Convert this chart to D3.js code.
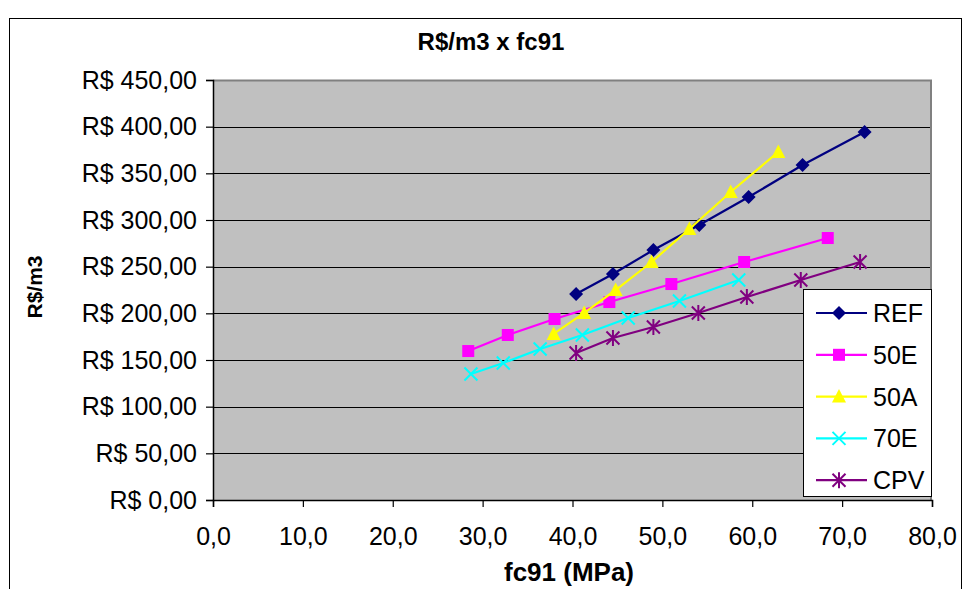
<!DOCTYPE html>
<html><head><meta charset="utf-8">
<script src="https://cdn.jsdelivr.net/npm/d3@7"></script>
<style>body{margin:0;background:#fff}svg{display:block;font-family:"Liberation Sans",Arial,sans-serif}</style>
</head><body>
<svg id="c" width="966" height="589"></svg>
<script>
const chartTitle = "R$/m3 x fc91";
const xTitle = "fc91 (MPa)";
const yTitle = "R$/m3";
const xTicks = [0,10,20,30,40,50,60,70,80];
const yTicks = [0,50,100,150,200,250,300,350,400,450];
const seriesNames = ["REF","50E","50A","70E","CPV"];
const seriesColors = ["#000080","#FF00FF","#FFFF00","#00FFFF","#800080"];
const seriesMarkers = ["diamond","square","triangle","x","star"];
const refX = [40.4,44.5,49.0,54.1,59.6,65.6,72.5];
const refY = [220.7,242.1,267.9,294.6,324.6,358.9,394.3];
const e50X = [28.4,32.8,38.0,44.1,51.0,59.1,68.4];
const e50Y = [159.6,176.8,193.9,212.1,231.4,255.0,280.7];
const a50X = [37.9,41.3,44.8,48.8,53.0,57.6,62.9];
const a50Y = [177.9,200.4,225.0,255.0,290.4,330.0,372.9];
const e70X = [28.7,32.3,36.4,41.1,46.2,51.9,58.5];
const e70Y = [135.0,146.8,161.8,176.8,195.0,213.2,235.7];
const cpvX = [40.4,44.5,49.0,54.0,59.4,65.4,72.0];
const cpvY = [157.5,173.6,185.4,200.4,217.5,235.7,255.0];
const seriesX = [refX,e50X,a50X,e70X,cpvX];
const seriesY = [refY,e50Y,a50Y,e70Y,cpvY];

const svg = d3.select("#c");
const L = 213, R = 932, T = 80, B = 500;
const x = d3.scaleLinear().domain([0,80]).range([L,R]);
const y = d3.scaleLinear().domain([0,450]).range([B,T]);

// outer border
svg.append("rect").attr("x",9.5).attr("y",18.5).attr("width",952).attr("height",620)
  .attr("fill","#fff").attr("stroke","#000").attr("stroke-width",1);

// plot area
svg.append("rect").attr("x",L).attr("y",T).attr("width",R-L).attr("height",B-T).attr("fill","#C0C0C0");
// gridlines
svg.append("g").selectAll("line").data(yTicks.filter(d=>d>0 && d<450)).join("line")
  .attr("x1",L).attr("x2",R).attr("y1",d=>Math.round(y(d))+0.5).attr("y2",d=>Math.round(y(d))+0.5)
  .attr("stroke","#000").attr("stroke-width",1.2);
// top/right border gray
svg.append("path").attr("d",`M${L},${T+0.5}H${R-1}V${B}`).attr("fill","none").attr("stroke","#808080").attr("stroke-width",2);

// axes
const fmtX = d => d3.format(".1f")(d).replace(".",",");
const fmtY = d => "R$ " + d3.format(".2f")(d).replace(".",",");
const gx = svg.append("g").attr("transform",`translate(0,${B})`)
  .call(d3.axisBottom(x).tickValues(xTicks).tickFormat(fmtX).tickSize(7).tickPadding(20));
const gy = svg.append("g").attr("transform",`translate(${L},0)`)
  .call(d3.axisLeft(y).tickValues(yTicks).tickFormat(fmtY).tickSize(7).tickPadding(9));
[gx,gy].forEach(g=>{
  g.select(".domain").attr("stroke","#000").attr("stroke-width",1.5);
  g.selectAll(".tick line").attr("stroke","#000").attr("stroke-width",1.2);
  g.selectAll("text").attr("fill","#000").attr("font-size",25).attr("font-family","Liberation Sans, Arial, sans-serif");
});

// markers
function marker(g, type, color){
  const s = 7;
  if(type==="diamond") g.append("path").attr("d",`M0,${-s}L${s},0L0,${s}L${-s},0Z`).attr("fill",color);
  else if(type==="square") g.append("rect").attr("x",-6).attr("y",-6).attr("width",12).attr("height",12).attr("fill",color);
  else if(type==="triangle") g.append("path").attr("d",`M0,-7.5L7,6L-7,6Z`).attr("fill",color);
  else if(type==="x") g.append("path").attr("d",`M-6.5,-6.5L6.5,6.5M-6.5,6.5L6.5,-6.5`).attr("stroke",color).attr("stroke-width",2).attr("fill","none");
  else if(type==="star") g.append("path").attr("d",`M-6.5,-6.5L6.5,6.5M-6.5,6.5L6.5,-6.5M0,-8L0,8`).attr("stroke",color).attr("stroke-width",2).attr("fill","none");
}

const line = d3.line().x(d=>x(d[0])).y(d=>y(d[1]));
seriesNames.forEach((name,i)=>{
  const pts = seriesX[i].map((v,j)=>[v,seriesY[i][j]]);
  const g = svg.append("g");
  g.append("path").attr("d",line(pts)).attr("fill","none").attr("stroke",seriesColors[i]).attr("stroke-width",2.2);
  pts.forEach(p=>{
    const m = g.append("g").attr("transform",`translate(${x(p[0])},${y(p[1])})`);
    marker(m, seriesMarkers[i], seriesColors[i]);
  });
});

// legend
const lg = svg.append("g");
lg.append("rect").attr("x",803.5).attr("y",289.5).attr("width",128).attr("height",207)
  .attr("fill","#fff").attr("stroke","#000").attr("stroke-width",1);
seriesNames.forEach((name,i)=>{
  const cy = 313 + i*41.8;
  lg.append("line").attr("x1",816).attr("x2",867).attr("y1",cy).attr("y2",cy).attr("stroke",seriesColors[i]).attr("stroke-width",2.2);
  const m = lg.append("g").attr("transform",`translate(839,${cy})`);
  marker(m, seriesMarkers[i], seriesColors[i]);
  lg.append("text").attr("x",873).attr("y",cy).attr("dy","0.36em").attr("font-size",25).text(name);
});

// titles
svg.append("text").attr("x",491).attr("y",50).attr("text-anchor","middle").attr("font-weight","bold").attr("font-size",24).text(chartTitle);
svg.append("text").attr("x",569).attr("y",581).attr("text-anchor","middle").attr("font-weight","bold").attr("font-size",26).text(xTitle);
svg.append("text").attr("transform","translate(42,287) rotate(-90)").attr("text-anchor","middle").attr("font-weight","bold").attr("font-size",21).text(yTitle);
</script>
</body></html>
